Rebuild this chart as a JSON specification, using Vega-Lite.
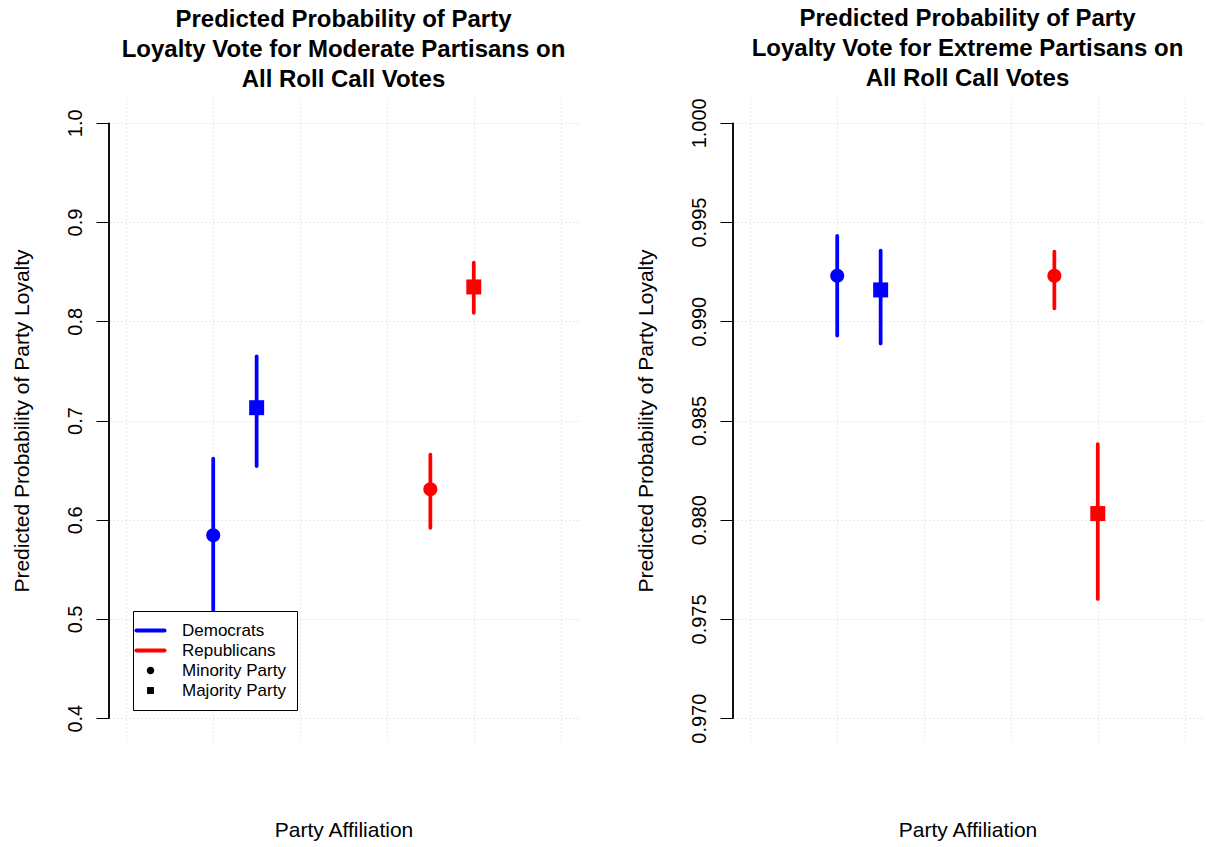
{
  "$schema": "https://vega.github.io/schema/vega-lite/v6.json",
  "background": "white",
  "padding": {"left": 11, "top": 6, "right": 5, "bottom": 5},
  "bounds": "flush",
  "spacing": 155,
  "config": {
    "view": {"stroke": null},
    "font": "Liberation Sans",
    "axis": {
      "labelFont": "Liberation Sans", "titleFont": "Liberation Sans",
      "labelColor": "black", "titleColor": "black",
      "labelFontSize": 20, "titleFontSize": 21, "titleFontWeight": "normal",
      "gridColor": "#d3d3d3", "gridDash": [1, 3], "gridWidth": 1,
      "tickColor": "black", "domainColor": "black"
    }
  },
  "datasets": {
    "moderate": [
      {"party": "Democrats", "status": "Minority Party", "x": 1, "est": 0.5844, "lo": 0.5052, "hi": 0.6616},
      {"party": "Democrats", "status": "Majority Party", "x": 1.5, "est": 0.7129, "lo": 0.6541, "hi": 0.7645},
      {"party": "Republicans", "status": "Minority Party", "x": 3.5, "est": 0.6307, "lo": 0.5918, "hi": 0.6656},
      {"party": "Republicans", "status": "Majority Party", "x": 4, "est": 0.8346, "lo": 0.8085, "hi": 0.859}
    ],
    "extreme": [
      {"party": "Democrats", "status": "Minority Party", "x": 1, "est": 0.9923, "lo": 0.98928, "hi": 0.9943},
      {"party": "Democrats", "status": "Majority Party", "x": 1.5, "est": 0.99158, "lo": 0.98888, "hi": 0.99356},
      {"party": "Republicans", "status": "Minority Party", "x": 3.5, "est": 0.9923, "lo": 0.99065, "hi": 0.99351},
      {"party": "Republicans", "status": "Majority Party", "x": 4, "est": 0.98031, "lo": 0.97601, "hi": 0.98381}
    ]
  },
  "resolve": {
    "scale": {"color": "independent", "stroke": "independent", "shape": "independent", "size": "independent", "x": "independent", "y": "independent"},
    "legend": {"color": "independent", "stroke": "independent", "shape": "independent", "size": "independent"}
  },
  "hconcat": [
    {
      "width": 469,
      "height": 643,
      "title": {
        "text": ["Predicted Probability of Party", "Loyalty Vote for Moderate Partisans on", "All Roll Call Votes"],
        "fontSize": 24, "fontWeight": "bold", "font": "Liberation Sans", "color": "black",
        "lineHeight": 30, "offset": 7, "anchor": "middle"
      },
      "data": {"name": "moderate"},
      "layer": [
        {
          "mark": {"type": "rule", "color": "black", "strokeWidth": 1},
          "encoding": {
            "x": {"datum": -0.2, "type": "quantitative", "title": "Party Affiliation",
              "scale": {"domain": [-0.2, 5.2], "nice": false, "zero": false},
              "axis": {"values": [0, 1, 2, 3, 4, 5], "labels": false, "ticks": false, "domain": false, "grid": true,
                "titlePadding": 94, "titleBaseline": "alphabetic"}},
            "y": {"datum": 0.4, "type": "quantitative", "title": "Predicted Probability of Party Loyalty",
              "scale": {"domain": [0.376, 1.024], "nice": false, "zero": false},
              "axis": {"values": [0.4, 0.5, 0.6, 0.7, 0.8, 0.9, 1.0], "format": ".1f", "domain": false, "grid": true,
                "tickSize": 13, "labelAngle": -90, "labelAlign": "center", "labelBaseline": "alphabetic", "labelPadding": 15,
                "titlePadding": 33}},
            "y2": {"datum": 1.0}
          }
        },
        {
          "mark": {"type": "rule", "strokeWidth": 3.75, "strokeCap": "round", "opacity": 1},
          "encoding": {
            "x": {"field": "x", "type": "quantitative", "title": "Party Affiliation"},
            "y": {"field": "lo", "type": "quantitative", "title": "Predicted Probability of Party Loyalty"},
            "y2": {"field": "hi"},
            "stroke": {"field": "party", "type": "nominal",
              "scale": {"domain": ["Democrats", "Republicans"], "range": ["#0000ff", "#ff0000"]},
              "legend": null}
          }
        },
        {
          "mark": {"type": "point", "filled": true, "opacity": 1, "strokeWidth": 0},
          "encoding": {
            "x": {"field": "x", "type": "quantitative", "title": "Party Affiliation"},
            "y": {"field": "est", "type": "quantitative", "title": "Predicted Probability of Party Loyalty"},
            "color": {"field": "party", "type": "nominal",
              "scale": {"domain": ["Democrats", "Republicans", "Minority Party", "Majority Party"], "range": ["#0000ff", "#ff0000", "#000000", "#000000"]},
              "legend": {
                "title": null, "orient": "none", "legendX": 24, "legendY": 512, "direction": "vertical",
                "padding": 11, "strokeColor": "black", "fillColor": "white", "cornerRadius": 0,
                "labelFontSize": 17, "labelFont": "Liberation Sans", "labelColor": "black", "labelOffset": 23,
                "rowPadding": 2, "symbolSize": 225, "symbolOffset": -2, "symbolStrokeWidth": 0, "symbolOpacity": 1
              }},
            "shape": {"field": "status", "type": "nominal",
              "scale": {"domain": ["Democrats", "Republicans", "Minority Party", "Majority Party"],
                "range": [
                  "M-1.87,-0.27L1.87,-0.27A0.27,0.27 0 0,1 1.87,0.27L-1.87,0.27A0.27,0.27 0 0,1 -1.87,-0.27Z",
                  "M-1.87,-0.27L1.87,-0.27A0.27,0.27 0 0,1 1.87,0.27L-1.87,0.27A0.27,0.27 0 0,1 -1.87,-0.27Z",
                  "M0.5,0A0.5,0.5 0 1,1 -0.5,0A0.5,0.5 0 1,1 0.5,0Z",
                  "M-0.46,-0.46L0.46,-0.46L0.46,0.46L-0.46,0.46Z"
                ]},
              "legend": {
                "title": null, "orient": "none", "legendX": 24, "legendY": 512, "direction": "vertical",
                "padding": 11, "strokeColor": "black", "fillColor": "white", "cornerRadius": 0,
                "labelFontSize": 17, "labelFont": "Liberation Sans", "labelColor": "black", "labelOffset": 23,
                "rowPadding": 2, "symbolSize": 225, "symbolOffset": -2, "symbolStrokeWidth": 0, "symbolOpacity": 1
              }},
            "size": {"field": "status", "type": "nominal", "scale": {"domain": ["Minority Party", "Majority Party"], "range": [784, 1063]}, "legend": null}
          }
        }
      ]
    },
    {
      "width": 469,
      "height": 643,
      "title": {
        "text": ["Predicted Probability of Party", "Loyalty Vote for Extreme Partisans on", "All Roll Call Votes"],
        "fontSize": 24, "fontWeight": "bold", "font": "Liberation Sans", "color": "black",
        "lineHeight": 30, "offset": 7, "anchor": "middle"
      },
      "data": {"name": "extreme"},
      "layer": [
        {
          "mark": {"type": "rule", "color": "black", "strokeWidth": 1},
          "encoding": {
            "x": {"datum": -0.2, "type": "quantitative", "title": "Party Affiliation",
              "scale": {"domain": [-0.2, 5.2], "nice": false, "zero": false},
              "axis": {"values": [0, 1, 2, 3, 4, 5], "labels": false, "ticks": false, "domain": false, "grid": true,
                "titlePadding": 94, "titleBaseline": "alphabetic"}},
            "y": {"datum": 0.97, "type": "quantitative", "title": "Predicted Probability of Party Loyalty",
              "scale": {"domain": [0.9688, 1.0012], "nice": false, "zero": false},
              "axis": {"values": [0.97, 0.975, 0.98, 0.985, 0.99, 0.995, 1.0], "format": ".3f", "domain": false, "grid": true,
                "tickSize": 13, "labelAngle": -90, "labelAlign": "center", "labelBaseline": "alphabetic", "labelPadding": 15,
                "titlePadding": 33}},
            "y2": {"datum": 1.0}
          }
        },
        {
          "mark": {"type": "rule", "strokeWidth": 3.75, "strokeCap": "round", "opacity": 1},
          "encoding": {
            "x": {"field": "x", "type": "quantitative", "title": "Party Affiliation"},
            "y": {"field": "lo", "type": "quantitative", "title": "Predicted Probability of Party Loyalty"},
            "y2": {"field": "hi"},
            "stroke": {"field": "party", "type": "nominal",
              "scale": {"domain": ["Democrats", "Republicans"], "range": ["#0000ff", "#ff0000"]},
              "legend": null}
          }
        },
        {
          "mark": {"type": "point", "filled": true, "opacity": 1, "strokeWidth": 0},
          "encoding": {
            "x": {"field": "x", "type": "quantitative", "title": "Party Affiliation"},
            "y": {"field": "est", "type": "quantitative", "title": "Predicted Probability of Party Loyalty"},
            "color": {"field": "party", "type": "nominal",
              "scale": {"domain": ["Democrats", "Republicans"], "range": ["#0000ff", "#ff0000"]},
              "legend": null},
            "shape": {"field": "status", "type": "nominal",
              "scale": {"domain": ["Minority Party", "Majority Party"],
                "range": ["M0.5,0A0.5,0.5 0 1,1 -0.5,0A0.5,0.5 0 1,1 0.5,0Z", "M-0.46,-0.46L0.46,-0.46L0.46,0.46L-0.46,0.46Z"]},
              "legend": null},
            "size": {"field": "status", "type": "nominal", "scale": {"domain": ["Minority Party", "Majority Party"], "range": [784, 1063]}, "legend": null}
          }
        }
      ]
    }
  ]
}
